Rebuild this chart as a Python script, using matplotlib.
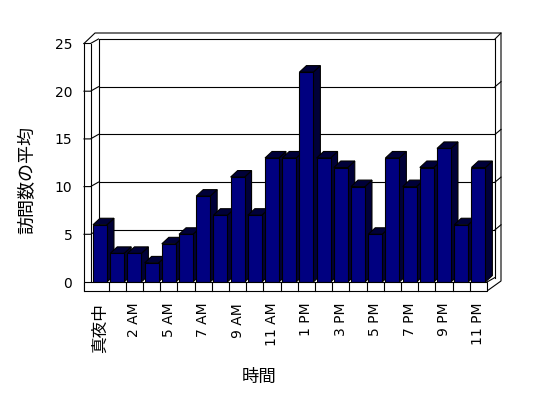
# 3D風の棒グラフ (時間ごとの訪問数の平均)

import matplotlib
matplotlib.use('Agg')
import matplotlib.pyplot as plt
from matplotlib.lines import Line2D
from matplotlib.patches import Polygon
from matplotlib.transforms import IdentityTransform

hours = ['真夜中', '1 AM', '2 AM', '3 AM', '5 AM', '6 AM', '7 AM', '8 AM',
         '9 AM', '10 AM', '11 AM', '正午', '1 PM', '2 PM', '3 PM', '4 PM',
         '5 PM', '6 PM', '7 PM', '8 PM', '9 PM', '10 PM', '11 PM']
visits = [6, 3, 3, 2, 4, 5, 9, 7, 11, 7, 13, 13,
          22, 13, 12, 10, 5, 13, 10, 12, 14, 6, 12]
yticks = [0, 5, 10, 15, 20, 25]

plt.rcParams['font.family'] = ['DejaVu Sans', 'Noto Sans CJK JP']

W, H = 548, 398
fig = plt.figure(figsize=(W/100, H/100), dpi=100)
ax = fig.add_axes([84/W, 116/H, 403/W, 238.5/H])
x = list(range(len(hours)))
ax.set_xlim(-0.93, len(hours) - 0.5)
ax.set_ylim(0, yticks[-1])
ax.set_frame_on(False)

LW = 0.8
TW = 6.5          # left wall thickness (px)
DX, DY = 8, 4.5   # wall depth offset (px)
FT = 9            # floor thickness (px)
BDX, BDY = 7, 6.5 # bar depth (px)
ID = IdentityTransform()

def P(xv, v, dx=0, dy=0):
    px, py = ax.transData.transform((xv, v))
    return (px + dx, py + dy)

def seg(pts, z=1):
    ax.add_line(Line2D([p[0] for p in pts], [p[1] for p in pts], transform=ID,
                       color='black', lw=LW, clip_on=False, zorder=z))

def poly(pts, fc, z):
    ax.add_patch(Polygon(pts, closed=True, transform=ID, facecolor=fc,
                         edgecolor='black', lw=LW, clip_on=False, zorder=z))

xl, xr = ax.get_xlim()
top = yticks[-1]
bl_x = P(xl, 0)[0] + TW + DX
br_x = P(xr, 0)[0] + DX
back_top = P(xl, top)[1] + DY
back_bot = P(xl, 0)[1] + DY

# back wall and gridlines
seg([(bl_x, back_bot), (bl_x, back_top), (br_x, back_top), (br_x, back_bot)])
for v in yticks[1:-1]:
    yb = P(xl, v)[1] + DY
    seg([(bl_x, yb), (br_x, yb)])
    seg([(br_x, yb), (br_x + 6, yb + 5)])
# left wall
for v in yticks[1:]:
    yb = P(xl, v)[1] + DY
    seg([P(xl, v), P(xl, v, TW, 0), (bl_x, yb)])
seg([P(xl, 0, 0, -FT), P(xl, top)])
seg([P(xl, 0, TW, 0), P(xl, top, TW, 0)])
# outer frame
seg([P(xl, top), (P(xl, top)[0] + 11, back_top + 6), (br_x + 6, back_top + 6),
     (br_x + 6, P(xr, 0)[1] + 1), P(xr, 0, 0, -FT)])
seg([(br_x, back_top), (br_x + 6, back_top + 6)])
seg([P(xr, 0), (br_x, back_bot)])

# floor front strip
poly([P(xl, 0), P(xr, 0), P(xr, 0, 0, -FT), P(xl, 0, 0, -FT)], 'white', 5)
for i in x[:-1]:
    seg([P(i + 0.5, 0), P(i + 0.5, 0, 0, -FT)], z=6)

# bars
bw = 0.81
shade = '#000038'
for i, v in zip(x, visits):
    x0, x1 = i - bw/2, i + bw/2
    poly([P(x1, 0), P(x1, v), P(x1, v, BDX, BDY), P(x1, 0, BDX, BDY)], shade, 2)
    poly([P(x0, v), P(x1, v), P(x1, v, BDX, BDY), P(x0, v, BDX, BDY)], shade, 2)
ax.bar(x, visits, width=bw, color='#000080', edgecolor='black', linewidth=LW, zorder=3)

ax.set_xticks(x[::2])
ax.set_xticklabels(hours[::2], rotation=90, fontsize=10)
ax.get_xticklabels()[0].set_fontsize(12)
ax.tick_params(axis='x', length=0, pad=15)
ax.set_yticks(yticks)
ax.tick_params(axis='y', length=0, pad=8.5, labelsize=10)

fig.text(27/W, 1 - 180/H, '訪問数の平均', rotation=90, ha='center', va='center', fontsize=13)
fig.text(259/W, 1 - 377/H, '時間', ha='center', va='center', fontsize=12.5)

fig.savefig('out.png', dpi=100)
